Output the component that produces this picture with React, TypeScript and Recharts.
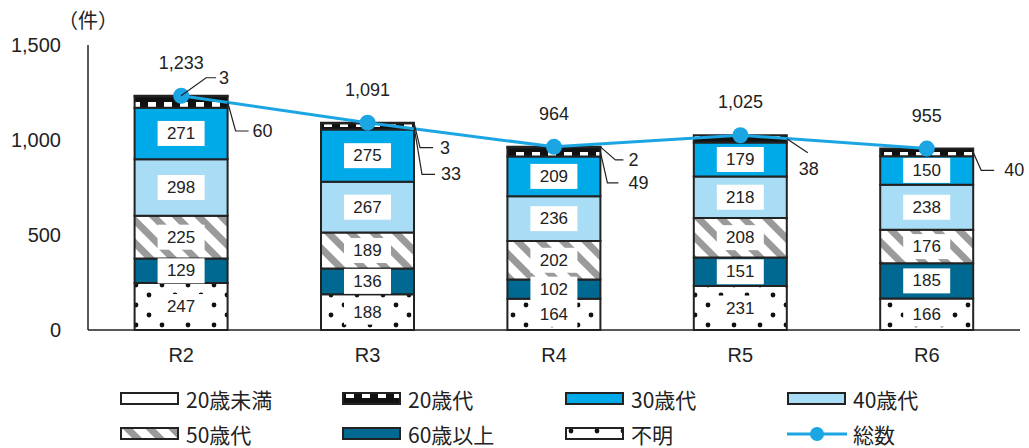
import React from 'react';
import { ComposedChart, Bar, Line, XAxis, YAxis, LabelList } from 'recharts';

const categories = ['R2', 'R3', 'R4', 'R5', 'R6'];
const unknown = [247, 188, 164, 231, 166];
const age60plus = [129, 136, 102, 151, 185];
const age50s = [225, 189, 202, 208, 176];
const age40s = [298, 267, 236, 218, 238];
const age30s = [271, 275, 209, 179, 150];
const age20s = [60, 33, 49, 38, 40];
const under20 = [3, 3, 2, 0, 0];
const totals = [1233, 1091, 964, 1025, 955];
const yTicks = [0, 500, 1000, 1500];

const rows = categories.map((c, i) => ({
  cat: c,
  unknown: unknown[i],
  age60plus: age60plus[i],
  age50s: age50s[i],
  age40s: age40s[i],
  age30s: age30s[i],
  age20s: age20s[i],
  under20: under20[i],
  total: totals[i],
}));

// layout of leader lines (offsets, not data)
type Leader = { from: 'rightMid' | 'rightTop' | 'centerTop'; bx: number; by: number; ex: number; tx: number; ty?: number; anchor?: 'start' | 'middle' } | null;
const leaders20s: Leader[] = [
  { from: 'rightMid', bx: 8, by: 29, ex: 21, tx: 25 },
  { from: 'rightMid', bx: 8, by: 48, ex: 21, tx: 27 },
  { from: 'rightMid', bx: 7, by: 31, ex: 18, tx: 28 },
  { from: 'rightMid', bx: 21, by: 14, ex: 21, tx: 22, ty: 30, anchor: 'middle' },
  { from: 'rightMid', bx: 8, by: 18, ex: 21, tx: 31 },
];
const leadersUnder20: Leader[] = [
  { from: 'centerTop', bx: 25, by: -18, ex: 35, tx: 38 },
  { from: 'rightTop', bx: 6, by: 25, ex: 19, tx: 26 },
  { from: 'rightTop', bx: 15, by: 13, ex: 23, tx: 28 },
  null,
  null,
];

const FONT = '"Liberation Sans", Arial, sans-serif';
const JFONT = '"Noto Sans CJK JP", "Liberation Sans", sans-serif';

const C30 = '#00a9e8';
const C40 = '#a9ddf6';
const C60 = '#006991';
const CLINE = '#1ba6e3';

const InnerLabel = (props: any) => {
  const { x, y, width, height, value } = props;
  if (!value) return null;
  const cx = x + width / 2;
  const cy = y + height / 2;
  const bw = 47;
  const bh = 25;
  return (
    <g>
      <rect x={cx - bw / 2} y={cy - bh / 2} width={bw} height={bh} fill="#fff" />
      <text x={cx} y={cy} textAnchor="middle" dominantBaseline="central" fontSize={17} fontFamily={FONT} fill="#222">
        {value}
      </text>
    </g>
  );
};

const makeLeader = (layout: Leader[]) => (props: any) => {
  const { x, y, width, height, value, index } = props;
  const L = layout[index];
  if (!L || !value) return null;
  let sx = x + width;
  let sy = y + height / 2;
  if (L.from === 'rightTop') { sx = x + width; sy = y; }
  if (L.from === 'centerTop') { sx = x + width / 2; sy = y; }
  const bx = sx + L.bx;
  const by = sy + L.by;
  const ex = sx + L.ex;
  const ty = L.ty !== undefined ? sy + L.ty : by;
  return (
    <g>
      <polyline points={`${sx},${sy} ${bx},${by} ${ex},${by}`} fill="none" stroke="#222" strokeWidth={1.2} />
      <text x={sx + L.tx} y={ty} textAnchor={L.anchor || 'start'} dominantBaseline="central" fontSize={18} fontFamily={FONT} fill="#222">
        {value}
      </text>
    </g>
  );
};

const TotalLabel = (props: any) => {
  const { x, y, value } = props;
  return (
    <text x={x} y={y - 33} textAnchor="middle" dominantBaseline="central" fontSize={18} fontFamily={FONT} fill="#222">
      {Number(value).toLocaleString('en-US')}
    </text>
  );
};

const legendItems = [
  { label: '20歳未満', fill: '#ffffff' },
  { label: '20歳代', fill: 'url(#p20s)' },
  { label: '30歳代', fill: C30 },
  { label: '40歳代', fill: C40 },
  { label: '50歳代', fill: 'url(#p50s)' },
  { label: '60歳以上', fill: C60 },
  { label: '不明', fill: 'url(#pUnknown)' },
  { label: '総数', fill: 'line' },
];

const Legend2 = () => (
  <div style={{ position: 'absolute', left: 120, top: 387, width: 900, display: 'grid', gridTemplateColumns: '222px 223px 222px 222px', rowGap: 11 }}>
    {legendItems.map((it) => (
      <div key={it.label} style={{ display: 'flex', alignItems: 'center', height: 24 }}>
        <svg width={60} height={16} style={{ display: 'block' }}>
          {it.fill === 'line' ? (
            <g>
              <line x1={0} y1={8} x2={60} y2={8} stroke={CLINE} strokeWidth={3} />
              <circle cx={30} cy={8} r={7} fill={CLINE} />
            </g>
          ) : (
            <rect x={1} y={2} width={57} height={11} fill={it.fill} stroke="#222" strokeWidth={2} />
          )}
        </svg>
        <span style={{ marginLeft: 6, fontFamily: JFONT, fontSize: 21, color: '#222', lineHeight: '24px' }}>{it.label}</span>
      </div>
    ))}
  </div>
);

export default function App() {
  return (
    <div style={{ position: 'absolute', left: 0, top: 0, width: 1029, height: 448, background: '#fff' }}>
      <div style={{ position: 'absolute', left: 58, top: 5, fontFamily: JFONT, fontSize: 20, color: '#222' }}>（件）</div>
      <ComposedChart width={1029} height={448} data={rows} margin={{ top: 45, right: 9, left: 28, bottom: 88 }} barCategoryGap="25%">
        <defs>
          <pattern id="p20s" patternUnits="userSpaceOnUse" width={16} height={10}>
            <rect x={0} y={0} width={16} height={10} fill="#111" />
            <rect x={4} y={2} width={8} height={5} fill="#fff" />
          </pattern>
          <pattern id="p50s" patternUnits="userSpaceOnUse" width={16} height={16} patternTransform="rotate(-45)">
            <rect x={0} y={0} width={16} height={16} fill="#fff" />
            <rect x={0} y={0} width={7} height={16} fill="#9a9a9a" />
          </pattern>
          <pattern id="pUnknown" patternUnits="userSpaceOnUse" width={26} height={20}>
            <rect x={0} y={0} width={26} height={20} fill="#fff" />
            <circle cx={6} cy={5} r={2.4} fill="#111" />
            <circle cx={19} cy={15} r={2.4} fill="#111" />
          </pattern>
        </defs>
        <XAxis
          dataKey="cat"
          height={30}
          tickLine={false}
          tickSize={0}
          tickMargin={18}
          axisLine={{ stroke: '#222', strokeWidth: 1.5 }}
          tick={{ fontSize: 20, fontFamily: FONT, fill: '#222' }}
        />
        <YAxis
          width={60}
          domain={[0, 1500]}
          ticks={yTicks}
          tickLine={false}
          tickSize={0}
          tickMargin={27}
          axisLine={{ stroke: '#222', strokeWidth: 1.5 }}
          tickFormatter={(v: number) => v.toLocaleString('en-US')}
          tick={{ fontSize: 20, fontFamily: FONT, fill: '#222' }}
        />
        <Bar dataKey="unknown" stackId="a" fill="url(#pUnknown)" stroke="#222" strokeWidth={2} isAnimationActive={false}>
          <LabelList dataKey="unknown" content={InnerLabel} />
        </Bar>
        <Bar dataKey="age60plus" stackId="a" fill={C60} stroke="#222" strokeWidth={2} isAnimationActive={false}>
          <LabelList dataKey="age60plus" content={InnerLabel} />
        </Bar>
        <Bar dataKey="age50s" stackId="a" fill="url(#p50s)" stroke="#222" strokeWidth={2} isAnimationActive={false}>
          <LabelList dataKey="age50s" content={InnerLabel} />
        </Bar>
        <Bar dataKey="age40s" stackId="a" fill={C40} stroke="#222" strokeWidth={2} isAnimationActive={false}>
          <LabelList dataKey="age40s" content={InnerLabel} />
        </Bar>
        <Bar dataKey="age30s" stackId="a" fill={C30} stroke="#222" strokeWidth={2} isAnimationActive={false}>
          <LabelList dataKey="age30s" content={InnerLabel} />
        </Bar>
        <Bar dataKey="age20s" stackId="a" fill="url(#p20s)" stroke="#222" strokeWidth={2} isAnimationActive={false}>
          <LabelList dataKey="age20s" content={makeLeader(leaders20s)} />
        </Bar>
        <Bar dataKey="under20" stackId="a" fill="#fff" stroke="#222" strokeWidth={2} isAnimationActive={false}>
          <LabelList dataKey="under20" content={makeLeader(leadersUnder20)} />
        </Bar>
        <Line
          dataKey="total"
          stroke={CLINE}
          strokeWidth={3}
          dot={{ r: 8, fill: CLINE, stroke: CLINE, strokeWidth: 0 }}
          activeDot={false}
          isAnimationActive={false}
        >
          <LabelList dataKey="total" content={TotalLabel} />
        </Line>
      </ComposedChart>
      <Legend2 />
    </div>
  );
}
